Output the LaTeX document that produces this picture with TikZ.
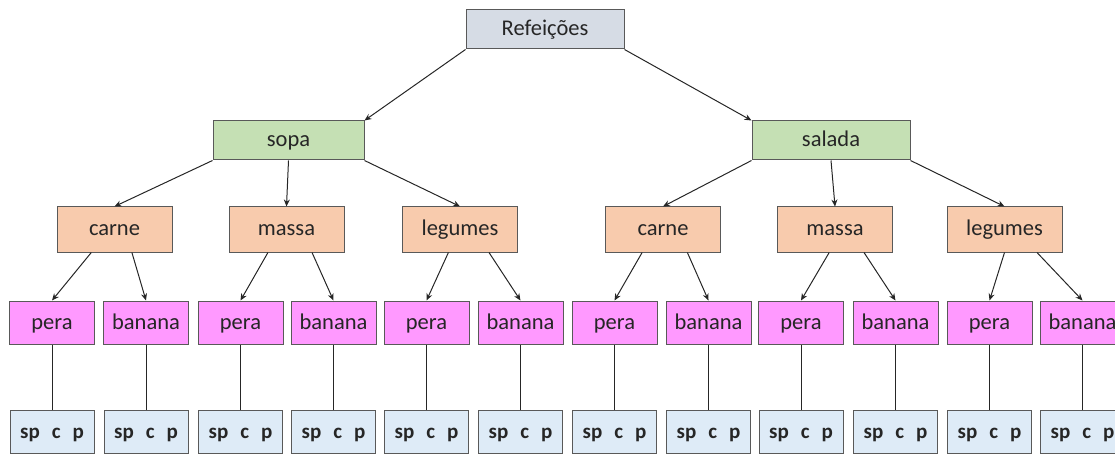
\documentclass[tikz,border=0pt]{standalone}
\usepackage{fontspec}
\setmainfont{Carlito}
\usetikzlibrary{arrows.meta,calc}
\definecolor{topc}{HTML}{D6DCE5}
\definecolor{greenc}{HTML}{C5E0B4}
\definecolor{orangec}{HTML}{F8CBAD}
\definecolor{pinkc}{HTML}{FF99FF}
\definecolor{bluec}{HTML}{DEEBF7}
\definecolor{edgec}{HTML}{595959}
\definecolor{linec}{HTML}{262626}
\definecolor{txt}{HTML}{262626}
\begin{document}
\begin{tikzpicture}[x=1pt,y=-1pt,
  box/.style={draw=edgec,line width=1pt,inner sep=0pt,text=txt,text height=17pt,text depth=4pt,font=\fontsize{22.5}{26}\selectfont},
  topbox/.style={box,fill=topc,minimum width=158pt,minimum height=39pt},
  midbox/.style={box,fill=greenc,minimum height=39pt},
  catbox/.style={box,fill=orangec,minimum width=115pt,minimum height=45pt},
  fruitbox/.style={box,fill=pinkc,minimum width=85pt,minimum height=43pt},
  leafbox/.style={box,fill=bluec,minimum width=84pt,minimum height=43pt,font=\fontsize{21}{25}\selectfont\bfseries},
  arr/.style={draw=linec,line width=1pt,-{Stealth[length=7pt,width=6pt]}},
  con/.style={draw=linec,line width=1pt}]
\useasboundingbox (0,0) rectangle (1115,454);
\clip (0,0) rectangle (1115,454);
\node[topbox] (r) at (545,29.5) {Refeições};
\node[midbox,minimum width=151pt] (sopa) at (288.5,140.5) {sopa};
\node[midbox,minimum width=158pt] (sal) at (831,140.5) {salada};
\foreach \n/\x/\t in {c1/114.5/carne,m1/286.5/massa,l1/460/legumes,c2/663/carne,m2/835/massa,l2/1004.5/legumes}
  \node[catbox] (\n) at (\x,229.5) {\t};
\foreach \n/\x/\t in {f1/52/pera,f2/146/banana,f3/240.5/pera,f4/333.5/banana,f5/426.5/pera,f6/520.5/banana,f7/614.5/pera,f8/708.5/banana,f9/801/pera,f10/895.5/banana,f11/989.5/pera,f12/1082.5/banana}
  {\node[fruitbox] (\n) at (\x,322.5) {\t};
   \node[leafbox] (b\n) at (\x,431.5) {sp\hspace{12pt}c\hspace{12pt}p};
   \draw[con] (\n.south) -- (b\n.north);}
\draw[arr] (r.south west) -- (sopa.north east);
\draw[arr] (r.south east) -- (sal.north west);
\draw[arr] (sopa.south west) -- (c1.north);
\draw[arr] (sopa.south) -- (m1.north);
\draw[arr] (sopa.south east) -- (l1.north);
\draw[arr] (sal.south west) -- (c2.north);
\draw[arr] (sal.south) -- (m2.north);
\draw[arr] (sal.south east) -- (l2.north);
\foreach \p/\a/\b/\fa/\fb in {c1/f1/f2/0.3/0.65,m1/f3/f4/0.34/0.72,l1/f5/f6/0.4/0.75,c2/f7/f8/0.32/0.71,m2/f9/f10/0.45/0.75,l2/f11/f12/0.5/0.78}
  {\draw[arr] ($(\p.south west)!\fa!(\p.south east)$) -- (\a.north);
   \draw[arr] ($(\p.south west)!\fb!(\p.south east)$) -- (\b.north);}
\end{tikzpicture}
\end{document}
